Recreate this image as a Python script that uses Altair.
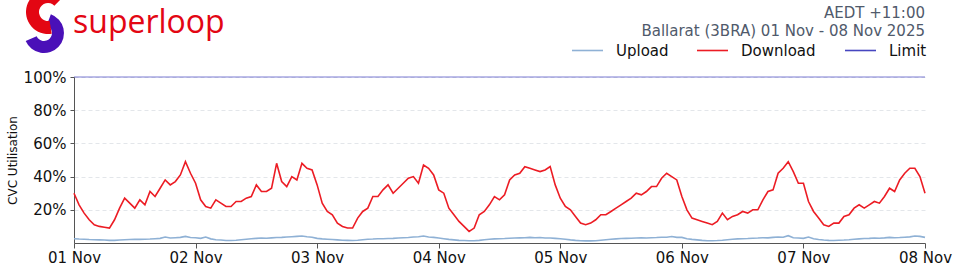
import altair as alt
import pandas as pd

# ---------------- data ----------------
tick_labels = ["01 Nov", "02 Nov", "03 Nov", "04 Nov", "05 Nov", "06 Nov", "07 Nov", "08 Nov"]
y_ticks = [20, 40, 60, 80, 100]
series_names = ["Upload", "Download", "Limit"]
series_colors = ["#8fb1d5", "#ec1c24", "#4646c0"]
header_lines = ["AEDT +11:00", "Ballarat (3BRA) 01 Nov - 08 Nov 2025"]
logo_text = "superloop"
limit_value = [100]

# hourly download utilisation (%) 01 Nov 00:00 .. 08 Nov 00:00
download = [
    30, 23, 18, 14, 11, 10, 9.5, 9, 14, 21, 27, 24, 21, 26, 23, 31, 28, 33, 38, 35, 37, 41, 49, 42,
    36, 26, 22, 21, 26, 24, 22, 22, 25, 25, 27, 28, 35, 31, 31, 33, 48, 37, 34, 40, 38, 48, 45, 44,
    35, 24, 19, 17, 12, 10, 9, 9, 15, 19, 21, 28, 28, 32, 35, 30, 33, 36, 39, 40, 36, 47, 45, 41,
    32, 30, 21, 17, 13, 10, 7, 9, 17, 19, 23, 28, 26, 29, 38, 41, 42, 46, 45, 44, 43, 44, 46, 35,
    27, 22, 20, 16, 12, 11, 12, 14, 17, 17, 19, 21, 23, 25, 27, 30, 29, 31, 34, 34, 39, 42, 40, 38,
    28, 20, 15, 14, 13, 12, 11, 13, 18, 14, 16, 17, 19, 18, 20, 20, 26, 31, 32, 42, 45, 49, 43, 36,
    36, 25, 19, 15, 11, 10, 12, 12, 16, 17, 21, 23, 21, 23, 25, 24, 28, 33, 31, 38, 42, 45, 45, 40,
    30,
]

# hourly upload utilisation (%)
upload = [
    2.6, 2.4, 2.3, 2.1, 2.0, 1.9, 1.8, 1.6, 1.6, 1.8, 2.0, 2.1, 2.2, 2.2, 2.3, 2.4, 2.6, 2.8, 3.6, 3.0, 3.2, 3.4, 4.0, 3.3,
    3.2, 2.8, 3.6, 2.5, 2.0, 1.8, 1.5, 1.5, 1.7, 2.0, 2.3, 2.6, 2.8, 3.0, 2.9, 3.1, 3.3, 3.4, 3.6, 3.8, 4.0, 4.2, 3.8, 3.5,
    2.8, 2.5, 2.3, 2.1, 1.9, 1.7, 1.6, 1.5, 1.7, 2.0, 2.3, 2.4, 2.6, 2.6, 2.7, 2.8, 3.0, 3.2, 3.3, 3.6, 3.8, 4.2, 3.6, 3.4,
    3.0, 2.6, 2.2, 1.9, 1.6, 1.5, 1.4, 1.4, 1.6, 2.0, 2.3, 2.5, 2.6, 2.7, 2.9, 3.0, 3.1, 3.2, 3.4, 3.2, 3.3, 3.0, 3.0, 2.8,
    2.6, 2.3, 1.9, 1.6, 1.4, 1.3, 1.3, 1.4, 1.7, 2.0, 2.3, 2.5, 2.7, 2.8, 2.9, 3.0, 3.1, 3.0, 3.2, 3.3, 3.5, 3.5, 3.9, 3.4,
    3.4, 2.6, 2.2, 1.9, 1.6, 1.4, 1.4, 1.5, 1.7, 2.0, 2.3, 2.5, 2.6, 2.7, 2.9, 3.0, 3.2, 3.1, 3.4, 3.6, 3.5, 4.4, 3.2, 3.0,
    2.8, 3.6, 2.6, 2.1, 1.8, 1.6, 1.5, 1.7, 1.8, 2.0, 2.3, 2.5, 2.7, 2.8, 3.0, 2.9, 3.1, 3.4, 3.2, 3.3, 3.5, 3.7, 4.2, 4.0,
    3.4,
]

# ---------------- layout ----------------
W, H = 851, 166
PAD = {"left": 74, "top": 77, "right": 35, "bottom": 31}
FONT = "DejaVu Sans"
FS = 15

n = len(download)
hours = list(range(n))
df = pd.DataFrame({
    "hour": hours + hours,
    "value": upload + download,
    "series": ["Upload"] * n + ["Download"] * n,
})

label_expr = "[" + ",".join("'%s'" % t for t in tick_labels) + "][round(datum.value / 24)]"

x_scale = alt.Scale(domain=[0, 24 * (len(tick_labels) - 1)], nice=False, zero=False)
y_scale = alt.Scale(domain=[0, 100], nice=False)
color_scale = alt.Scale(domain=series_names, range=series_colors)

x_axis = alt.Axis(values=[24 * i for i in range(len(tick_labels))], labelExpr=label_expr,
                  title=None, grid=False, labelFontSize=FS, labelFont=FONT, labelColor="#111",
                  domainColor="#555", tickColor="#555", tickSize=5, labelPadding=2,
                  labelOverlap=False, labelBound=False, labelFlush=False)
y_axis = alt.Axis(values=y_ticks, labelExpr="datum.value + '%'", title="CVC Utilisation",
                  titleFont=FONT, titleFontSize=12, titleFontWeight="normal", titleColor="#111",
                  titlePadding=4, grid=True, gridDash=[4, 3], gridColor="#e3e6ea",
                  labelFontSize=FS, labelFont=FONT, labelColor="#111",
                  domainColor="#555", tickColor="#555", tickSize=4, labelPadding=4)

lines = alt.Chart(df).mark_line(strokeWidth=1.6).encode(
    x=alt.X("hour:Q", scale=x_scale, axis=x_axis),
    y=alt.Y("value:Q", scale=y_scale, axis=y_axis),
    color=alt.Color("series:N", scale=color_scale, legend=None),
)

limit = alt.Chart(pd.DataFrame({"value": limit_value, "series": ["Limit"]})).mark_rule(
    strokeWidth=1.2, opacity=0.7
).encode(
    y=alt.Y("value:Q", scale=y_scale, axis=y_axis),
    color=alt.Color("series:N", scale=color_scale, legend=None),
)

layers = [lines, limit]

# header texts (top right)
for i, t in enumerate(header_lines):
    layers.append(
        alt.Chart(pd.DataFrame({"t": [t]})).mark_text(
            align="right", baseline="alphabetic", font=FONT, fontSize=FS, color="#505a6b"
        ).encode(text="t:N", x=alt.value(W), y=alt.value(-59 + 18 * i))
    )

# custom legend
legend_x = [498, 623, 771]
for name, col, lx in zip(series_names, series_colors, legend_x):
    layers.append(
        alt.Chart(pd.DataFrame({"s": [name]})).mark_rule(strokeWidth=1.6, color=col).encode(
            x=alt.value(lx), x2=alt.value(lx + 31), y=alt.value(-26.5)
        )
    )
    layers.append(
        alt.Chart(pd.DataFrame({"t": [name]})).mark_text(
            align="left", baseline="middle", font=FONT, fontSize=FS, color="#111"
        ).encode(text="t:N", x=alt.value(lx + 44), y=alt.value(-26))
    )

# logo
layers.append(
    alt.Chart(pd.DataFrame({"k": [0]})).mark_arc(
        theta=0.35, theta2=4.3, radius=20, radius2=8, color="#4a10b8"
    ).encode(x=alt.value(44 - 74), y=alt.value(33 - 77))
)
layers.append(
    alt.Chart(pd.DataFrame({"k": [0]})).mark_arc(
        theta=2.97, theta2=7.07, radius=22, radius2=9, color="#e30613"
    ).encode(x=alt.value(48 - 74), y=alt.value(12 - 77))
)
layers.append(
    alt.Chart(pd.DataFrame({"t": [logo_text]})).mark_text(
        align="left", baseline="alphabetic", font="Open Sans", fontSize=32, fontWeight=500,
        color="#e30613"
    ).encode(text="t:N", x=alt.value(73 - 74), y=alt.value(33 - 77))
)

chart = alt.layer(*layers).properties(
    width=W, height=H, padding=PAD, background="white",
    autosize=alt.AutoSizeParams(type="none"),
).configure_view(strokeWidth=0, stroke="transparent")

chart.save("out.html", embed_options={"renderer": "svg", "actions": False})
